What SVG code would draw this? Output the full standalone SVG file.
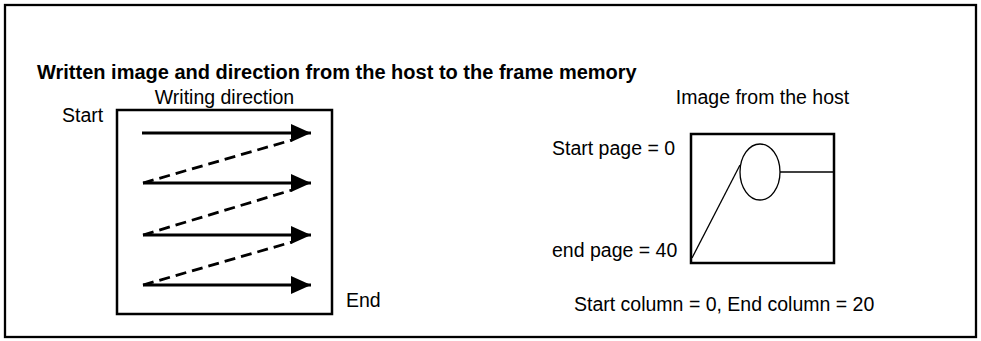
<svg xmlns="http://www.w3.org/2000/svg" width="981" height="341" viewBox="0 0 981 341">
  <defs>
    <style>
      .lbl { font-family: "Liberation Sans", Arial, sans-serif; font-size: 19.5px; fill: #000; }
      .mid { text-anchor: middle; }
      .title { font-family: "Liberation Sans", Arial, sans-serif; font-size: 20px; font-weight: bold; fill: #000; }
      .frame { fill: #fff; stroke: #000; stroke-width: 2.3; }
      .box { fill: none; stroke: #000; stroke-width: 2.5; }
      .thin { fill: none; stroke: #000; stroke-width: 1.3; }
      .scan { stroke: #000; stroke-width: 2.8; fill: none; }
      .ret { stroke: #000; stroke-width: 2.8; fill: none; stroke-dasharray: 11 6; }
    </style>
    <marker id="head" viewBox="0 0 20 18" refX="20" refY="9" markerUnits="userSpaceOnUse" markerWidth="20" markerHeight="18" orient="auto">
      <path d="M0,0 L20,9 L0,18 Z" fill="#000"/>
    </marker>
  </defs>

  <!-- outer frame -->
  <rect class="frame" x="5" y="5" width="971" height="332"/>

  <text class="title" x="37" y="79">Written image and direction from the host to the frame memory</text>

  <!-- left: writing direction inside the frame memory -->
  <g id="writing-direction">
    <text class="lbl mid" x="224.5" y="104">Writing direction</text>
    <text class="lbl" x="62" y="122">Start</text>
    <rect class="box" x="117" y="110" width="215" height="204"/>
    <text class="lbl" x="346" y="307">End</text>
  </g>

  <g id="connectors">
    <line class="scan" x1="142" y1="133" x2="311" y2="133" marker-end="url(#head)"/>
    <line class="scan" x1="143" y1="183" x2="311" y2="183" marker-end="url(#head)"/>
    <line class="scan" x1="143" y1="235" x2="311" y2="235" marker-end="url(#head)"/>
    <line class="scan" x1="143" y1="285" x2="311" y2="285" marker-end="url(#head)"/>
    <line class="ret" x1="143" y1="183" x2="292" y2="140"/>
    <line class="ret" x1="143" y1="235" x2="292" y2="190"/>
    <line class="ret" x1="143" y1="285" x2="292" y2="242"/>
  </g>

  <!-- right: image sent by the host -->
  <g id="host-image">
    <text class="lbl mid" x="762.5" y="104">Image from the host</text>
    <text class="lbl" x="552" y="155">Start page = 0</text>
    <text class="lbl" x="552" y="257">end page = 40</text>
    <rect class="box" x="691" y="134" width="143" height="129"/>
    <ellipse class="thin" cx="760" cy="172" rx="20" ry="28"/>
    <line class="thin" x1="692" y1="258" x2="740" y2="165"/>
    <line class="thin" x1="780" y1="172" x2="834" y2="172"/>
    <text class="lbl" x="574" y="311">Start column = 0, End column = 20</text>
  </g>
</svg>
